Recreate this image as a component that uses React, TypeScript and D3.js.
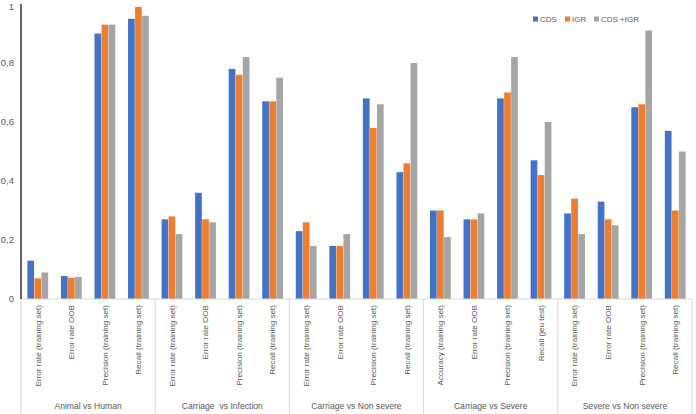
import React from "react";
import * as d3 from "d3";

const groups = ["Animal vs Human", "Carriage  vs Infection", "Carriage vs Non severe", "Carriage vs Severe", "Severe vs Non severe"];
const metrics = [
  ["Error rate (training set)", "Error rate OOB", "Precision (training set)", "Recall (training set)"],
  ["Error rate (training set)", "Error rate OOB", "Precision (training set)", "Recall (training set)"],
  ["Error rate (training set)", "Error rate OOB", "Precision (training set)", "Recall (training set)"],
  ["Accuracy (training set)", "Error rate OOB", "Precision (training set)", "Recall (jeu test)"],
  ["Error rate (training set)", "Error rate OOB", "Precision (training set)", "Recall (training set)"],
];
const seriesNames = ["CDS", "IGR", "CDS +IGR"];
const cds = [0.13, 0.078, 0.90, 0.95, 0.27, 0.36, 0.78, 0.67, 0.23, 0.18, 0.68, 0.43, 0.30, 0.27, 0.68, 0.47, 0.29, 0.33, 0.65, 0.57];
const igr = [0.07, 0.072, 0.93, 0.99, 0.28, 0.27, 0.76, 0.67, 0.26, 0.18, 0.58, 0.46, 0.30, 0.27, 0.70, 0.42, 0.34, 0.27, 0.66, 0.30];
const both = [0.09, 0.075, 0.93, 0.96, 0.22, 0.26, 0.82, 0.75, 0.18, 0.22, 0.66, 0.80, 0.21, 0.29, 0.82, 0.60, 0.22, 0.25, 0.91, 0.50];
const yTicks = [0, 0.2, 0.4, 0.6, 0.8, 1];
const colors = ["#4472C4", "#ED7D31", "#A5A5A5"];

export default function App() {
  const W = 696, H = 414;
  const left = 21, right = 692, top = 4, bottom = 299;
  const cats = metrics.flatMap((m, gi) => m.map((name, mi) => ({ key: gi + "-" + mi, name, gi })));
  const x = d3.scaleBand<string>().domain(cats.map(c => c.key)).range([left, right]).paddingInner(0.36).paddingOuter(0.18);
  const x1 = d3.scaleBand<number>().domain([0, 1, 2]).range([0, x.bandwidth()]).padding(0.05);
  const y = d3.scaleLinear().domain([0, 1]).range([bottom, top]);
  const step = (right - left) / cats.length;
  const series = [cds, igr, both];
  const font = "Liberation Sans, Arial, sans-serif";
  const legendX = [533, 565, 594];
  return (
    <svg width={W} height={H} style={{ position: "absolute", left: 0, top: 0, background: "#fff" }}>
      {yTicks.map(t => (
        <text key={t} x={14} y={Math.max(y(t), 7)} dy="0.35em" textAnchor="end" fontSize={9.5} fill="#595959" fontFamily={font}>
          {d3.format(".1f")(t).replace(".0", "").replace(".", ",").replace(/^1,0$/, "1")}
        </text>
      ))}
      {series.map((vals, si) =>
        cats.map((c, i) => (
          <rect key={si + "-" + i} x={(x(c.key) as number) + (x1(si) as number)} y={y(vals[i])} width={x1.bandwidth()} height={bottom - y(vals[i])} fill={colors[si]} />
        ))
      )}
      <line x1={left} x2={right} y1={bottom} y2={bottom} stroke="#D9D9D9" />
      {[0, 1, 2, 3, 4, 5].map(g => (
        <line key={g} x1={left + g * 4 * step} x2={left + g * 4 * step} y1={bottom} y2={H} stroke="#D9D9D9" />
      ))}
      <line x1={left} x2={left} y1={top} y2={bottom} stroke="#333" strokeWidth={1.5} />
      {cats.map(c => {
        const cx = (x(c.key) as number) + x.bandwidth() / 2;
        return (
          <text key={c.key} transform={`translate(${cx},305) rotate(-90)`} dy="0.35em" textAnchor="end" fontSize={8.1} fill="#595959" fontFamily={font}>
            {c.name}
          </text>
        );
      })}
      {groups.map((g, gi) => (
        <text key={g} x={left + (gi * 4 + 2) * step} y={409} textAnchor="middle" fontSize={8.6} fill="#595959" fontFamily={font} style={{ whiteSpace: "pre" }}>
          {g}
        </text>
      ))}
      {seriesNames.map((s, si) => {
        const lx = legendX[si];
        return (
          <g key={s}>
            <rect x={lx} y={16.5} width={5} height={5} fill={colors[si]} />
            <text x={lx + 7} y={19} dy="0.35em" fontSize={8} fill="#595959" fontFamily={font}>{s}</text>
          </g>
        );
      })}
    </svg>
  );
}
